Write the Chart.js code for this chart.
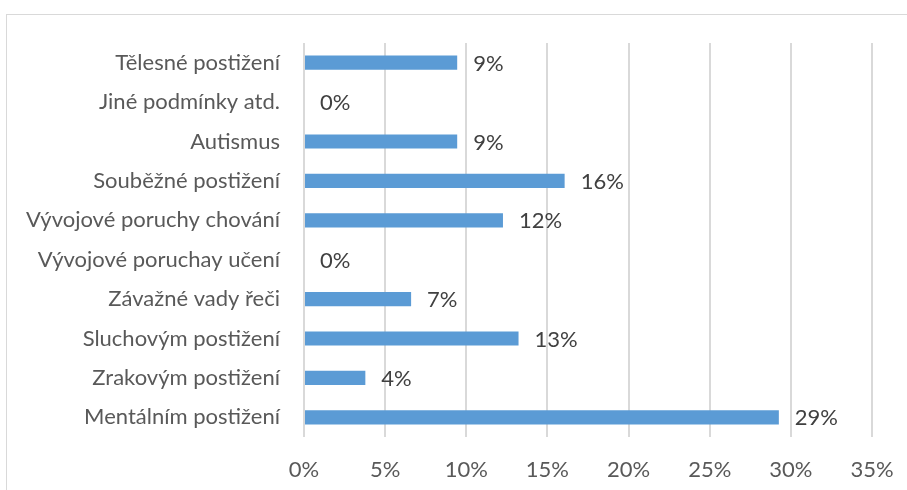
<!DOCTYPE html>
<html>
<head>
<meta charset="utf-8">
<script src="https://cdn.jsdelivr.net/npm/chart.js@4/dist/chart.umd.min.js"></script>
<style>
  html, body { margin: 0; padding: 0; background: #fff; }
  #wrap { position: relative; width: 907px; height: 490px; overflow: hidden; }
  #frame { position: absolute; left: 6px; top: 14px; width: 1000px; height: 600px; border: 1px solid #d9d9d9; }
  canvas { position: absolute; left: 0; top: 0; }
</style>
</head>
<body>
<div id="wrap">
  <div id="frame"></div>
  <canvas id="myChart" width="907" height="490"></canvas>
</div>
<script>
var categories = [
  'Tělesné postižení',
  'Jiné podmínky atd.',
  'Autismus',
  'Souběžné postižení',
  'Vývojové poruchy chování',
  'Vývojové poruchay učení',
  'Závažné vady řeči',
  'Sluchovým postižení',
  'Zrakovým postižení',
  'Mentálním postižení'
];
var values = [9.44, 0, 9.44, 16.06, 12.26, 0, 6.6, 13.22, 3.78, 29.26];
var labels = ['9%', '0%', '9%', '16%', '12%', '0%', '7%', '13%', '4%', '29%'];

var FONT = 'Lato, "Open Sans", sans-serif';

// data labels right of each bar
var barLabels = {
  id: 'barLabels',
  afterDatasetsDraw: function (chart) {
    var ctx = chart.ctx;
    var meta = chart.getDatasetMeta(0);
    ctx.save();
    ctx.font = '22px ' + FONT;
    ctx.fillStyle = '#404040';
    ctx.textAlign = 'left';
    ctx.textBaseline = 'middle';
    meta.data.forEach(function (bar, i) {
      ctx.fillText(labels[i], bar.x + 16, bar.y + 1);
    });
    ctx.restore();
  }
};

var ctx = document.getElementById('myChart').getContext('2d');
new Chart(ctx, {
  type: 'bar',
  data: {
    labels: categories,
    datasets: [{
      data: values,
      backgroundColor: '#5b9bd5',
      borderWidth: 0,
      barPercentage: 0.36,
      categoryPercentage: 1
    }]
  },
  options: {
    indexAxis: 'y',
    responsive: false,
    animation: false,
    layout: { padding: { top: 43, right: 35, left: 0, bottom: 0 } },
    plugins: { legend: { display: false }, tooltip: { enabled: false } },
    scales: {
      x: {
        min: 0,
        max: 35,
        ticks: {
          stepSize: 5,
          padding: 20,
          color: '#595959',
          font: { family: FONT, size: 22 },
          callback: function (v) { return v + '%'; }
        },
        grid: { color: '#d9d9d9', lineWidth: 2, drawTicks: false },
        border: { display: false },
        afterFit: function (scale) {
          scale.height = 53;
          scale.paddingLeft = 0;
          scale.paddingRight = 0;
        }
      },
      y: {
        ticks: {
          padding: 24,
          color: '#595959',
          font: { family: FONT, size: 22 }
        },
        grid: { display: false, drawTicks: false },
        border: { display: false },
        afterFit: function (scale) { scale.width = 304; }
      }
    }
  },
  plugins: [barLabels]
});
</script>
</body>
</html>
